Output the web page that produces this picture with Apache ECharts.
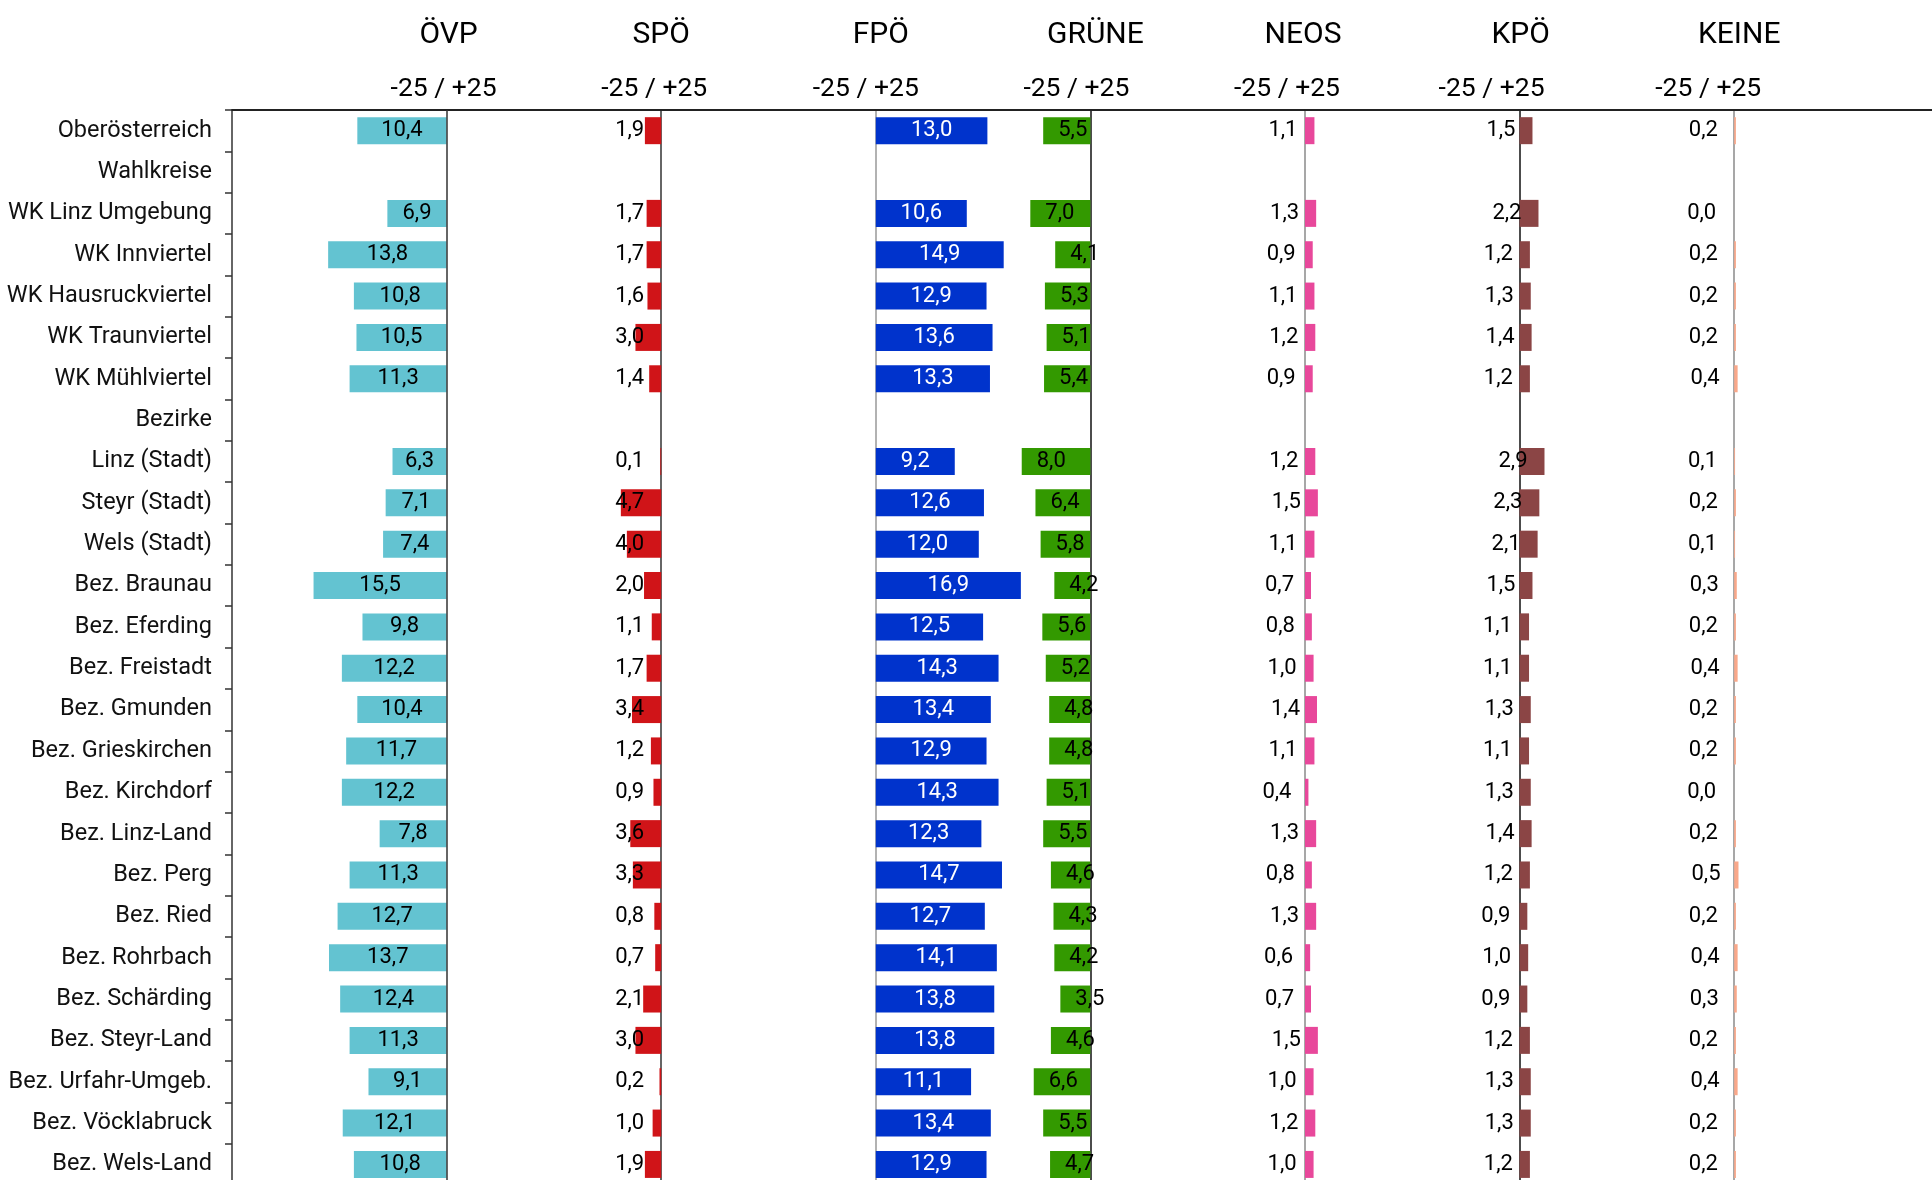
<!DOCTYPE html>
<html>
<head>
<meta charset="utf-8">
<title>Oberösterreich – Differenzen</title>
<script src="https://cdn.jsdelivr.net/npm/echarts@6/dist/echarts.min.js"></script>
<style>
  html, body { margin: 0; padding: 0; background: #fff; }
  #chart { width: 1932px; height: 1180px; }
</style>
</head>
<body>
<div id="chart"></div>
<script>
// rows (top to bottom); the two section headers have no values
const regions = [
  'Oberösterreich', 'Wahlkreise', 'WK Linz Umgebung', 'WK Innviertel', 'WK Hausruckviertel',
  'WK Traunviertel', 'WK Mühlviertel', 'Bezirke', 'Linz (Stadt)', 'Steyr (Stadt)', 'Wels (Stadt)',
  'Bez. Braunau', 'Bez. Eferding', 'Bez. Freistadt', 'Bez. Gmunden', 'Bez. Grieskirchen',
  'Bez. Kirchdorf', 'Bez. Linz-Land', 'Bez. Perg', 'Bez. Ried', 'Bez. Rohrbach', 'Bez. Schärding',
  'Bez. Steyr-Land', 'Bez. Urfahr-Umgeb.', 'Bez. Vöcklabruck', 'Bez. Wels-Land'
];
const parties = ['ÖVP', 'SPÖ', 'FPÖ', 'GRÜNE', 'NEOS', 'KPÖ', 'KEINE'];
const rangeLabel = '-25 / +25';

const oevp  = [-10.4, null, -6.9, -13.8, -10.8, -10.5, -11.3, null, -6.3, -7.1, -7.4, -15.5, -9.8, -12.2, -10.4, -11.7, -12.2, -7.8, -11.3, -12.7, -13.7, -12.4, -11.3, -9.1, -12.1, -10.8];
const spoe  = [-1.9, null, -1.7, -1.7, -1.6, -3.0, -1.4, null, -0.1, -4.7, -4.0, -2.0, -1.1, -1.7, -3.4, -1.2, -0.9, -3.6, -3.3, -0.8, -0.7, -2.1, -3.0, -0.2, -1.0, -1.9];
const fpoe  = [13.0, null, 10.6, 14.9, 12.9, 13.6, 13.3, null, 9.2, 12.6, 12.0, 16.9, 12.5, 14.3, 13.4, 12.9, 14.3, 12.3, 14.7, 12.7, 14.1, 13.8, 13.8, 11.1, 13.4, 12.9];
const gruene = [-5.5, null, -7.0, -4.1, -5.3, -5.1, -5.4, null, -8.0, -6.4, -5.8, -4.2, -5.6, -5.2, -4.8, -4.8, -5.1, -5.5, -4.6, -4.3, -4.2, -3.5, -4.6, -6.6, -5.5, -4.7];
const neos  = [1.1, null, 1.3, 0.9, 1.1, 1.2, 0.9, null, 1.2, 1.5, 1.1, 0.7, 0.8, 1.0, 1.4, 1.1, 0.4, 1.3, 0.8, 1.3, 0.6, 0.7, 1.5, 1.0, 1.2, 1.0];
const kpoe  = [1.5, null, 2.2, 1.2, 1.3, 1.4, 1.2, null, 2.9, 2.3, 2.1, 1.5, 1.1, 1.1, 1.3, 1.1, 1.3, 1.4, 1.2, 0.9, 1.0, 0.9, 1.2, 1.3, 1.3, 1.2];
const keine = [0.2, null, 0.0, 0.2, 0.2, 0.2, 0.4, null, 0.1, 0.2, 0.1, 0.3, 0.2, 0.4, 0.2, 0.2, 0.0, 0.2, 0.5, 0.2, 0.4, 0.3, 0.2, 0.4, 0.2, 0.2];
const values = [oevp, spoe, fpoe, gruene, neos, kpoe, keine];

// look
const colors = ['#63C3D1', '#D01418', '#0033CC', '#339900', '#E8489B', '#8B4545', '#F9A88A'];
const zeroLineColors = ['#333', '#333', '#999', '#111', '#8a8a8a', '#111', '#8a8a8a'];
const labelColors = ['#000', '#000', '#fff', '#000', '#000', '#000', '#000'];
const labelPos = ['inside', 'insideRight', 'inside', 'insideLeft', 'insideRight', 'insideRight', 'insideRight'];
const labelDist = [5, 17, 5, 15, 17, 17, 18];
const nameShift = [2, 0, 5, 5, -2, 1, 5];
const rangeShift = [-3, -7, -10, -14, -18, -28, -26];

const PLOT_LEFT = 232;
const STEP = 214.6;      // distance between the zero lines (= 25 units)
const TOP = 110;
const ROW_H = 41.35;

const FONT = 'Roboto, "Liberation Sans", Arial, sans-serif';

const fmt = v => Math.abs(v).toFixed(1).replace('.', ',');

const chart = echarts.init(document.getElementById('chart'));

const grids = [], xAxes = [], yAxes = [], series = [], graphics = [];
parties.forEach((p, i) => {
  const zeroX = PLOT_LEFT + (i + 1) * STEP;
  grids.push({
    left: PLOT_LEFT + i * STEP, top: TOP, width: 2 * STEP, height: ROW_H * regions.length,
    containLabel: false, outerBoundsMode: 'none'
  });
  xAxes.push({
    gridIndex: i, type: 'value', min: -25, max: 25, position: 'top',
    axisLine: { show: true, onZero: false, lineStyle: { color: '#222', width: 2 } },
    axisTick: { show: false }, axisLabel: { show: false }, splitLine: { show: false }
  });
  yAxes.push({
    gridIndex: i, type: 'category', data: regions, inverse: true,
    axisLine: { show: true, onZero: i > 0, lineStyle: { color: i === 0 ? '#333' : zeroLineColors[i], width: 1.5 } },
    axisTick: i === 0 ? { show: true, length: 7, lineStyle: { color: '#333', width: 1.5 } } : { show: false },
    axisLabel: i === 0
      ? { show: true, margin: 20, color: '#111', fontSize: 23.5, fontFamily: FONT }
      : { show: false },
    splitLine: { show: false }
  });
  const s = {
    name: p, type: 'bar', xAxisIndex: i, yAxisIndex: i,
    data: values[i], barWidth: 27,
    itemStyle: { color: colors[i] },
    label: {
      show: true, position: labelPos[i], distance: labelDist[i],
      color: labelColors[i], fontSize: 22, fontFamily: FONT,
      formatter: prm => (prm.value == null ? '' : fmt(prm.value))
    },
    silent: true, animation: false
  };
  if (i === 0) {
    s.markLine = {
      silent: true, symbol: 'none', label: { show: false },
      lineStyle: { color: zeroLineColors[0], width: 1.5, type: 'solid' },
      data: [{ xAxis: 0 }]
    };
  }
  series.push(s);
  graphics.push({
    type: 'text', x: zeroX + nameShift[i], y: 35,
    style: { text: p, fill: '#000', font: '30px ' + FONT, textAlign: 'center', textVerticalAlign: 'middle' }
  });
  graphics.push({
    type: 'text', x: zeroX + rangeShift[i], y: 89,
    style: { text: rangeLabel, fill: '#000', font: '26.5px ' + FONT, textAlign: 'center', textVerticalAlign: 'middle' }
  });
});

chart.setOption({
  backgroundColor: '#fff',
  animation: false,
  grid: grids,
  xAxis: xAxes,
  yAxis: yAxes,
  series: series,
  graphic: graphics
});
</script>
</body>
</html>
